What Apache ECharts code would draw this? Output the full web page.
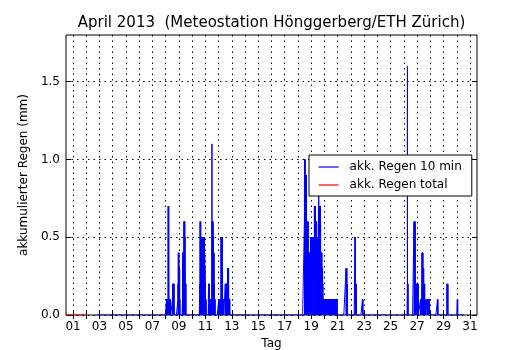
<!DOCTYPE html>
<html>
<head>
<meta charset="utf-8">
<script src="https://cdn.jsdelivr.net/npm/echarts@6/dist/echarts.min.js"></script>
<style>
  html, body { margin: 0; padding: 0; background: #fff; }
  #chart { width: 530px; height: 350px; }
</style>
</head>
<body>
<div id="chart"></div>
<script>
// Rain gauge Hönggerberg, April 2013. x = day of April (1.0 = 1 April 00:00).
const dayTicks = [1,2,3,4,5,6,7,8,9,10,11,12,13,14,15,16,17,18,19,20,21,22,23,24,25,26,27,28,29,30,31];
const dayLabels = [1,3,5,7,9,11,13,15,17,19,21,23,25,27,29,31];
const rainTicks = [0, 0.5, 1.0, 1.5];

// 10-minute record: first and last reading
const recordStart = '04-02 19:30';
const recordEnd = '04-30 13:10';

// running total (only logged at the start of the month)
const totalTimes = ['03-31 11:00', '04-02 01:30'];
const totalValues = [0, 0];

// showers: start time and the 10-minute sums (mm) that follow it
const showerStarts = [
  '04-08 01:40', '04-08 12:40', '04-08 22:20', '04-09 06:30',
  '04-10 13:30', '04-11 05:50', '04-12 00:10', '04-12 12:10',
  '04-18 11:30', '04-21 15:10', '04-22 07:30', '04-22 21:00',
  '04-26 06:20', '04-26 18:30', '04-27 06:20', '04-27 09:00',
  '04-27 18:00', '04-28 13:00', '04-29 06:20', '04-30 01:00'
];
const showerValues = [
  [0.1,0,0.1,0.1,0,0.1,0,0.1,0.1,0,0.1,0,0.1,0.1,0,0.1,
   0,0.7,0.3,0,0.1,0.6,0.2,0,0.7,0.1,0,
   0.1,0,0.1,0.1,0,0.1,0,0.1,0.1,0,0.1,0,0.1,0.1,0,0.1,0,0.1,0],
  [0.1,0.2,0,0.2,0.1,0,0.2,0.2,0,0.1,0.2,0,0.2,0.1,0,0.2,0.1,0],
  [0.1,0.2,0,0.3,0.4,0,0.2,0.4,0,0.3,0.4,
   0,0.3,0.2,0,0.3,0.1,0,0.3,0.2,0,0.1],
  [0.1,0.4,0,0.3,0.4,0,0.2,0.4,0.1,0,0.4,0.3,0,
   0.1,0,0.2,
   0.6,0.3,0,0.6,0.5,0,0.4,0.6,0,0.6,0.2,0,0.5,
   0.2,0,0.2,0.1,0,0.2,0.2,0,0.1,0.2,0],
  [0.1,0,0.1,0.2,0,0.1,
   0.6,0.2,0,0.6,0.4,0,0.5,0.6,0,0.2,0.1,0,
   0.1,0,0,0.1,0,
   0.5,0.3,0,0.5,0.2,0,0.4,0.5,0,0.5,0.1,0,0.3,0.5,0,0.5,0.2,0,0.5,0.4,0,0.2,0.5,0,0.5,0.3,0,0.4,0.5,0,0.5,0.1,
   0,0.4,0.2,0,0.3,0.1,0,0.2,0.1,0,0.1,0.1,0,0.1,0,0.1],
  [0.2,0.1,0,0.2,0.2,0,0.1,0.2,0,0.2,
   0,0,0,0,0,0,
   0.1,0,0.1,0.1,0,0.1,0,0.1,0.1,0,0.1,0.1,0,0.1,0.1,0,0.1,0.1,0,0.1,
   0,1.1,0,
   0.6,0.3,0,0.6,0.5,0,0.4,0.6,0,0.2,0.6,0.1,0,0.5,
   0.4,0.2,0,0.4,0.1,0,0.3,0.4,0,0.2,
   0.1,0,0.1,0.1,0,0.1,0,0.1],
  [0.1,0,0.1,0.1,0,0.1,0,0.1,0.1,0,0.1,0,0.1,0.1,0,0.1,0,0.1,0.1,0,0.1,0,0.1,0.1,0,0.1,
   0.5,0.2,0,0.5,0.3,0,0.4,0.5,0,0.5,0.1,0,0.3,0.5,0,0.5,0.2,0,
   0.1,0,0.1,0.1,0,0.1,0.1,0,0.1,0,0.1,0.1,0],
  [0.2,0.1,0,0.2,0.2,0,0.1,0.2,0,0.2,0.1,0,0.2,0.2,0,0.1,0.2,0,0.2,0.1,0,0.2,0.2,0,
   0.3,0.2,0,0.3,0.1,0,0.3,0.3,0,0.2,0.3,0,0.3,0.1,
   0,0.1,0,0.1,0.1,0,0.1,0,0.1,0.1,0,0.1,0],
  [0,0.6,1.0,0.3,0,1.0,0.5,0,0.8,1.0,0.2,0,
   0.9,0.4,0,0.9,0.6,0,0.8,0.9,0.1,0,0.9,0.5,0,
   0.6,0.2,0,0.6,0.4,0,0.5,0.6,0,0.3,0.6,0.1,0,0.6,0.4,0,0.2,0.6,0.3,0,
   0.4,0.1,0,0.4,0.3,0,0.2,0.4,0,0.4,0.1,0,0.3,0.4,0,0.2,0.4,0.1,0,0.4,0.3,0,0.4,0,
   0.5,0.2,0,0.5,0.4,0,0.3,0.5,0,0.5,0.1,0,0.4,0.5,0,0.2,0.5,0.3,0,0.5,0.1,0,0.5,0.4,0,0.3,0.5,0,0.5,0.2,
   0.3,0.5,0.4,0.2,0.5,0.3,0.4,0.2,0.3,0.5,0.3,
   0.7,0.4,0,0.7,0.5,0,0.6,0.7,0.2,0,0.7,
   0.6,0.3,0,0.6,0.5,0,0.6,0.2,0,0.5,0.6,0.1,0,0.6,0.4,
   0.5,0.4,0.3,0.5,0.4,0.3,0.5,0.3,0.4,0.5,0,0.5,0.2,0,0.4,0.5,0.1,0,
   0.7,0.3,0,0.8,0.5,0,0.7,0.6,0,0.5,0.7,0.2,0,0.7,0.4,0,0.6,0.7,0.1,0,0.7,0.5,0,0.6,
   0.4,0.2,0,0.4,0.3,0,0.4,0.1,0,0.3,0.4,0.2,0,0.4,0.3,
   0.3,0.1,0,0.3,0.2,0,0.3,0.1,0,0.2,
   0.1,0,0.1,0.1,0,0.1,0,0.1,0,0.1,0.1,0,
   0.1,0.1,0,0.1,0,0.1,0.1,0,0.1,0,0.1,0,
   0.1,0,0.1,0,0.1,0.1,0,0.1,0,0.1,0.1,0,
   0.1,0,0.1,0.1,0,0.1,0,0.1,0.1,0,0.1,0,
   0.1,0.1,0,0.1,0,0.1,0,0.1,0.1,0,0.1,0,
   0.1,0,0.1,0.1,0,0.1,0.1,0,0.1,0,0.1,0,
   0.1,0,0.1,0,0.1,0.1,0,0.1,0,0.1,0.1,0,
   0.1,0.1,0,0.1,0,0.1,0,0.1,0.1,0,0.1,0,
   0.1,0,0.1,0.1,0,0.1,0,0.1,0,0.1,0.1,0,
   0.1,0,0.1,0,0.1,0.1,0,0.1,0.1,0,0.1,0,
   0.1,0.1,0,0.1,0,0.1,0,0.1,0.1,0,0.1,0,
   0.1,0,0.1,0.1,0,0.1,0.1,0,0.1,0,0.1,0,
   0.1,0,0.1,0,0.1,0.1,0,0.1,0,0.1,0.1,0],
  [0.3,0.1,0,0.3,0.2,0,0.3,0.1,0,0.3,0.2,0,0.2,0.1,0,0.2,0.1,0],
  [0.5,0.3,0,0.5,0.2,0,0.1,0.2,0,0.2,0.1,0,0.2,0.2,0,0.1],
  [0.1,0,0.1,0,0.1],
  [0.2,1.6,0.3,0,0.2,0.1,0,0.2,0.1,0],
  [0.6,0.3,0,0.6,0.5,0,0.4,0.6,0,0.6,0.2,0,0.6,0.3,
   0,0.2,0.1,0,0.2,0.2,0,0.1,0.2,0,0.2,0.1,0,0.2,0.2,0,0.1,0.2,0,0.2,0.1,0,0.2,0.2,0,0.2,0.1,0,0.2,0.2,0,0.1,0.2,0],
  [0.1,0,0.1,0.1,0,0.1,0,0.1,0.1,0,0.1,0],
  [0.4,0.2,0,0.4,0.3,0,0.4,0.1,0,0.3,0.4,
   0,0.3,0.2,0,0.3,0.1,0,0.3,0.2,0,
   0.2,0,0.2,0.1,0,0.2,0.1,0,0.2,0.1,0,
   0.1,0,0.1,0.1,0],
  [0.1,0,0.1,0.1,0,0.1,0,0.1,0.1,0,0.1,0,0.1,0.1,0,0.1,0,0.1,0.1,0,0.1,0,0.1,0.1,0,0.1],
  [0.1,0,0.1,0,0.1,0.1,0],
  [0.2,0.1,0,0.2,0.2,0,0.1,0.2,0,0.2,0.1,0],
  [0.1,0,0.1,0,0.1]
];

const titleText = 'April 2013  (Meteostation Hönggerberg/ETH Zürich)';
const seriesNames = ['akk. Regen 10 min', 'akk. Regen total'];

// 'MM-DD HH:MM' -> day of April as a decimal number
function toDay(s) {
  const [md, hm] = s.split(' ');
  const [m, d] = md.split('-').map(Number);
  const [h, mi] = hm.split(':').map(Number);
  return (m === 3 ? d - 31 : d) + (h * 60 + mi) / 1440;
}

const STEP = 10 / 1440;
const t0 = toDay(recordStart);
const nSteps = Math.round((toDay(recordEnd) - t0) / STEP);
const rain = new Array(nSteps + 1).fill(0);
showerStarts.forEach((s, i) => {
  const k = Math.round((toDay(s) - t0) / STEP);
  showerValues[i].forEach((v, j) => { rain[k + j] = v; });
});
const rainData = rain.map((v, i) => [t0 + i * STEP, v]);
const totalData = totalTimes.map((s, i) => [toDay(s), totalValues[i]]);

const FONT = 'DejaVu Sans';
const black = '#000';
const dotted = { color: '#000', width: 1, type: [1.5, 4] };

const chart = echarts.init(document.getElementById('chart'), null, { renderer: 'canvas' });
chart.setOption({
  animation: false,
  backgroundColor: '#fff',
  textStyle: { fontFamily: FONT },
  grid: {
    left: 66, top: 35, width: 411, height: 280,
    outerBoundsMode: 'none', containLabel: false,
    show: true, borderColor: black, borderWidth: 1, backgroundColor: 'transparent'
  },
  legend: {
    data: seriesNames,
    orient: 'vertical',
    left: 309, top: 155,
    itemWidth: 20, itemHeight: 12, itemGap: 6,
    padding: [6, 10, 5, 9],
    backgroundColor: '#fff',
    borderColor: black, borderWidth: 1, borderRadius: 0,
    selectedMode: false,
    itemStyle: { opacity: 0 },
    lineStyle: { width: 1.2 },
    textStyle: { fontFamily: FONT, fontSize: 12, color: black, padding: [0, 0, 0, 6] }
  },
  xAxis: [
    {
      type: 'value', position: 'bottom', min: 0.47, max: 31.53,
      name: 'Tag', nameLocation: 'middle', nameGap: 20,
      nameTextStyle: { fontFamily: FONT, fontSize: 12, color: black },
      axisLine: { show: false },
      axisTick: { show: true, inside: true, length: 4, customValues: dayTicks, lineStyle: { color: black } },
      axisLabel: {
        customValues: dayLabels, margin: 6, fontFamily: FONT, fontSize: 12, color: black,
        formatter: v => String(v).padStart(2, '0')
      },
      splitLine: { show: true, lineStyle: dotted }
    },
    {
      type: 'value', position: 'top', min: 0.47, max: 31.53,
      name: titleText, nameLocation: 'middle', nameGap: 4,
      nameTextStyle: { fontFamily: FONT, fontSize: 15, color: black },
      axisLine: { show: false },
      axisTick: { show: true, inside: true, length: 4, customValues: dayTicks, lineStyle: { color: black } },
      axisLabel: { show: false },
      splitLine: { show: false }
    }
  ],
  yAxis: [
    {
      type: 'value', min: 0, max: 1.8,
      name: 'akkumulierter Regen (mm)', nameLocation: 'middle', nameGap: 27,
      nameTextStyle: { fontFamily: FONT, fontSize: 12, color: black },
      axisLine: { show: false },
      axisTick: { show: true, inside: true, length: 5, customValues: rainTicks, lineStyle: { color: black } },
      axisLabel: {
        customValues: rainTicks, margin: 6, fontFamily: FONT, fontSize: 12, color: black,
        formatter: v => v.toFixed(1)
      },
      splitLine: { show: true, lineStyle: dotted }
    },
    {
      type: 'value', position: 'right', min: 0, max: 1.8,
      axisLine: { show: false },
      axisTick: { show: true, inside: true, length: 5, customValues: rainTicks, lineStyle: { color: black } },
      axisLabel: { show: false },
      splitLine: { show: false }
    }
  ],
  series: [
    {
      name: seriesNames[1], type: 'line', data: totalData,
      symbol: 'none', color: '#ff0000',
      lineStyle: { color: '#ff0000', width: 1 }, z: 2
    },
    {
      name: seriesNames[0], type: 'line', data: rainData,
      symbol: 'none', sampling: null, color: '#0000ff',
      lineStyle: { color: '#0000ff', width: 1 }, z: 3
    }
  ]
});
</script>
</body>
</html>
